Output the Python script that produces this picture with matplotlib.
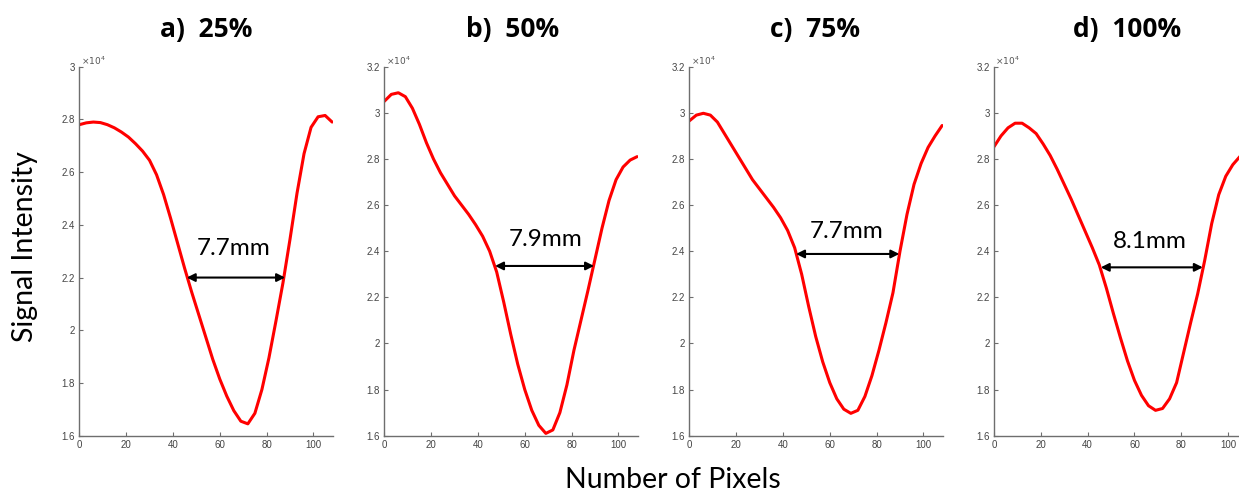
import matplotlib
matplotlib.use("Agg")
import matplotlib.pyplot as plt

# ---------------- data (signal intensity in units of 1e4) ----------------
pixels = [0, 3, 6, 9, 12, 15, 18, 21, 24, 27, 30, 33, 36, 39, 42, 45, 48, 51, 54,
          57, 60, 63, 66, 69, 72, 75, 78, 81, 84, 87, 90, 93, 96, 99, 102, 105, 108]

signal_25 = [2.780, 2.787, 2.790, 2.788, 2.780, 2.768, 2.752, 2.733, 2.708, 2.680,
             2.645, 2.590, 2.515, 2.425, 2.330, 2.235, 2.145, 2.060, 1.975, 1.890,
             1.815, 1.750, 1.695, 1.655, 1.645, 1.685, 1.775, 1.895, 2.035, 2.180,
             2.345, 2.520, 2.670, 2.770, 2.810, 2.815, 2.790]
signal_50 = [3.050, 3.080, 3.087, 3.070, 3.020, 2.950, 2.870, 2.800, 2.740, 2.690,
             2.640, 2.600, 2.560, 2.515, 2.465, 2.400, 2.310, 2.180, 2.040, 1.910,
             1.800, 1.710, 1.645, 1.610, 1.625, 1.700, 1.820, 1.970, 2.100, 2.230,
             2.365, 2.500, 2.620, 2.710, 2.765, 2.795, 2.810]
signal_75 = [2.965, 2.990, 2.998, 2.990, 2.960, 2.910, 2.860, 2.810, 2.760, 2.710,
             2.670, 2.630, 2.590, 2.545, 2.490, 2.415, 2.300, 2.160, 2.030, 1.920,
             1.830, 1.760, 1.715, 1.697, 1.710, 1.770, 1.860, 1.970, 2.090, 2.220,
             2.400, 2.560, 2.690, 2.780, 2.850, 2.900, 2.945]
signal_100 = [2.853, 2.900, 2.935, 2.955, 2.955, 2.935, 2.910, 2.865, 2.815, 2.755,
              2.690, 2.625, 2.555, 2.485, 2.415, 2.340, 2.240, 2.130, 2.025, 1.925,
              1.840, 1.775, 1.730, 1.710, 1.718, 1.760, 1.830, 1.960, 2.090, 2.215,
              2.360, 2.520, 2.645, 2.725, 2.775, 2.810, 2.850]

panel_titles = ["a)  25%", "b)  50%", "c)  75%", "d)  100%"]
widths = ["7.7mm", "7.9mm", "7.7mm", "8.1mm"]
# FWHM arrow: (left x, right x, level)
arrow_left = [45.9, 47.3, 45.6, 45.6]
arrow_right = [87.9, 89.6, 89.7, 89.2]
arrow_level = [2.20, 2.336, 2.388, 2.330]
label_x = [65.8, 68.7, 67.3, 66.7]
label_y = [2.31, 2.45, 2.485, 2.441]
y_tops = [3.0, 3.2, 3.2, 3.2]
series = [signal_25, signal_50, signal_75, signal_100]

# ---------------- figure ----------------
W, H = 1239, 494
fig = plt.figure(figsize=(W / 100, H / 100), dpi=100)

ax_left_px = [79.3, 384.3, 689.3, 994.0]
ax_w_px = 254.0
ax_bottom_px = 494 - 435.7
ax_h_px = 369.0
title_left = [160, 466, 770, 1073]

axis_col = "#6e6e6e"
tick_col = "#444444"

for i in range(4):
    ax = fig.add_axes([ax_left_px[i] / W, ax_bottom_px / H, ax_w_px / W, ax_h_px / H])
    ax.plot(pixels, series[i], color="red", lw=2.2, solid_capstyle="round",
            solid_joinstyle="round")
    ax.set_xlim(0, 108.5)
    ax.set_ylim(1.6, y_tops[i])
    ax.set_xticks([0, 20, 40, 60, 80, 100])
    yt = [round(1.6 + 0.2 * k, 1) for k in range(int(round((y_tops[i] - 1.6) / 0.2)) + 1)]
    ax.set_yticks(yt)
    ax.set_yticklabels([("%g" % v) for v in yt])
    for s in ["top", "right"]:
        ax.spines[s].set_visible(False)
    for s in ["left", "bottom"]:
        ax.spines[s].set_color(axis_col)
        ax.spines[s].set_linewidth(1.0)
    ax.tick_params(direction="in", length=3, width=0.8, color=axis_col,
                   labelsize=7, labelcolor=tick_col, pad=3)
    for lab in ax.get_xticklabels() + ax.get_yticklabels():
        lab.set_family("Liberation Sans")
    ax.patch.set_alpha(0)
    ax.text(0.005, 1.0, r"$\times10^{4}$", transform=ax.transAxes, fontsize=6.5,
            color="#555555", ha="left", va="bottom")
    ax.annotate("", xy=(arrow_left[i], arrow_level[i]), xytext=(arrow_right[i], arrow_level[i]),
                arrowprops=dict(arrowstyle="<|-|>", color="black", lw=1.5,
                                mutation_scale=12, shrinkA=0, shrinkB=0))
    ax.text(label_x[i], label_y[i], widths[i], ha="center", va="center",
            fontsize=17.5, family="Lato", color="black")
    fig.text(title_left[i] / W, 1 - 37.5 / H, panel_titles[i], ha="left", va="baseline",
             fontsize=19, fontweight="bold", family="Open Sans")

fig.text(25 / W, 0.5, "Signal Intensity", rotation=90, ha="center", va="center",
         fontsize=20.5, family="Lato")
fig.text(673 / W, 6 / H, "Number of Pixels", ha="center", va="baseline",
         fontsize=20.5, family="Lato")

fig.savefig("out.png", dpi=100)
